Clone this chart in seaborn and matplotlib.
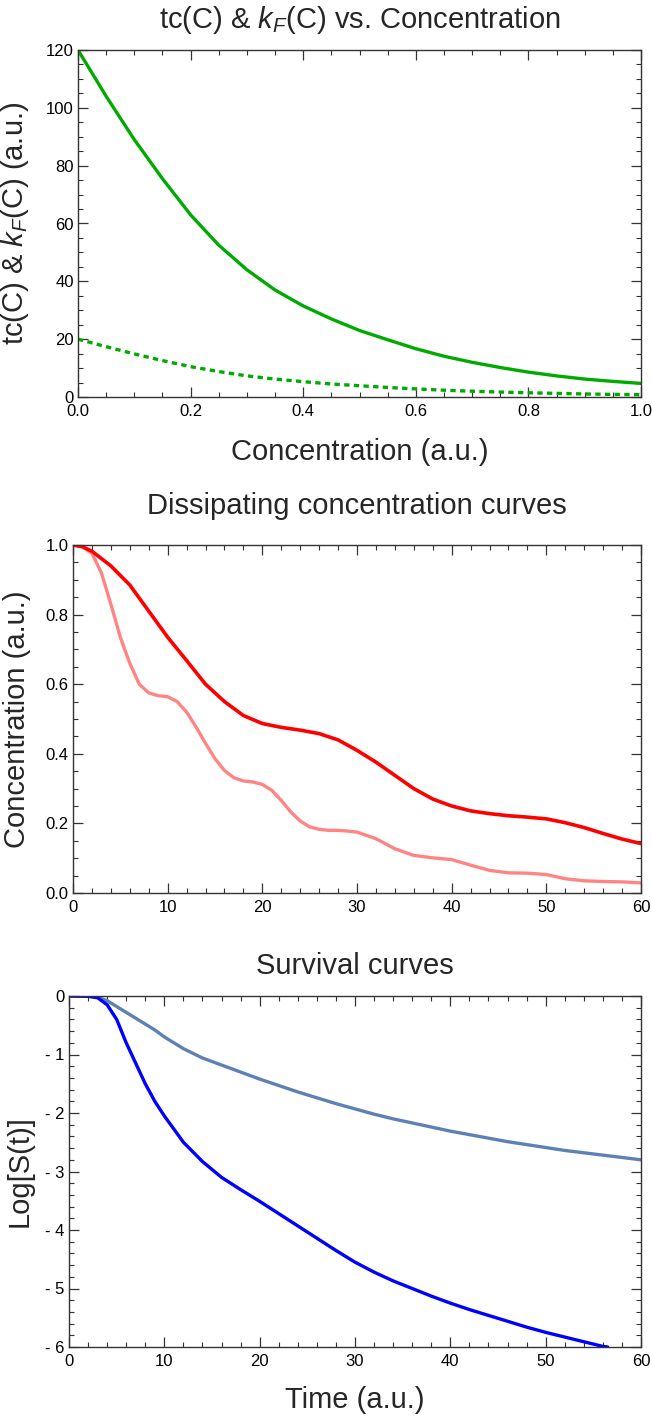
import numpy as np
import pandas as pd
import matplotlib
matplotlib.use("Agg")
import matplotlib.pyplot as plt
from matplotlib.ticker import MultipleLocator, FixedLocator, FixedFormatter
import seaborn as sns

# --- data ---
conc = [0.0, 0.05, 0.1, 0.15, 0.2, 0.25, 0.3, 0.35, 0.4, 0.45, 0.5,
        0.55, 0.6, 0.65, 0.7, 0.75, 0.8, 0.85, 0.9, 0.95, 1.0]
tc_vals = [120, 104, 89, 75.5, 63, 52.5, 44, 37, 31.5, 27, 23,
           19.8, 16.7, 14.1, 12, 10.2, 8.6, 7.3, 6.2, 5.4, 4.7]
kf_vals = [20, 17.4, 14.9, 12.6, 10.5, 8.8, 7.3, 6.2, 5.3, 4.5, 3.9,
           3.3, 2.8, 2.35, 2.0, 1.7, 1.45, 1.25, 1.05, 0.9, 0.8]

t_dark = [0, 1, 2, 4, 6, 8, 10, 12, 14, 16, 18, 20, 22, 24, 26, 28, 30,
          32, 34, 36, 38, 40, 42, 44, 46, 48, 50, 52, 54, 56, 58, 60]
c_dark = [1.0, 0.995, 0.982, 0.94, 0.885, 0.81, 0.735, 0.668, 0.60, 0.55, 0.51, 0.487,
          0.476, 0.468, 0.458, 0.44, 0.41, 0.376, 0.338, 0.30, 0.27, 0.25,
          0.236, 0.228, 0.222, 0.218, 0.213, 0.202, 0.188, 0.171, 0.155, 0.142]

t_light = [0, 1, 2, 3, 4, 5, 6, 7, 8, 9, 10, 11, 12, 13, 14, 15, 16, 17, 18, 19,
           20, 21, 22, 23, 24, 25, 26, 27, 28, 29, 30,
           32, 34, 36, 38, 40, 42, 44, 46, 48, 50, 52, 54, 56, 58, 60]
c_light = [1.0, 0.995, 0.976, 0.92, 0.83, 0.735, 0.66, 0.60, 0.575, 0.567, 0.564,
           0.55, 0.52, 0.477, 0.43, 0.386, 0.352, 0.331, 0.322, 0.319,
           0.312, 0.295, 0.266, 0.233, 0.207, 0.19, 0.183, 0.18, 0.18, 0.178, 0.175,
           0.156, 0.127, 0.108, 0.101, 0.096, 0.08, 0.065, 0.058, 0.057, 0.053,
           0.041, 0.035, 0.033, 0.032, 0.029]

t_surv = [0, 2, 3, 4, 5, 6, 7, 8, 9, 10, 12, 14, 16, 18, 20, 22, 24, 26, 28, 30,
          32, 34, 36, 38, 40, 42, 44, 46, 48, 50, 52, 54, 56, 58, 60]
s_light = [0, 0, -0.02, -0.08, -0.18, -0.28, -0.38, -0.48, -0.58, -0.7, -0.9, -1.06,
           -1.18, -1.3, -1.42, -1.53, -1.64, -1.74, -1.84, -1.93, -2.02, -2.1, -2.17,
           -2.24, -2.31, -2.37, -2.43, -2.49, -2.54, -2.59, -2.64, -2.68, -2.72, -2.76, -2.8]
t_surv_dark = [0, 2, 3, 4, 5, 6, 7, 8, 9, 10, 12, 14, 16, 18, 20, 22, 24, 26, 28, 30,
               32, 34, 36, 38, 40, 42, 44, 46, 48, 50, 52, 54, 56, 56.5]
s_dark = [0, -0.005, -0.03, -0.15, -0.4, -0.8, -1.15, -1.5, -1.8, -2.05, -2.5, -2.83,
          -3.1, -3.31, -3.51, -3.72, -3.93, -4.14, -4.35, -4.55, -4.72, -4.87, -5.0, -5.13,
          -5.25, -5.36, -5.46, -5.56, -5.66, -5.75, -5.83, -5.91, -5.99, -6.0]

sns.set_style("ticks")
plt.rcParams['font.family'] = ['Liberation Sans', 'DejaVu Sans']
plt.rcParams['mathtext.fontset'] = 'custom'
plt.rcParams['mathtext.rm'] = 'Liberation Sans'
plt.rcParams['mathtext.it'] = 'Liberation Sans:italic'

W, H = 652, 1417
fig = plt.figure(figsize=(W / 100, H / 100), dpi=100)


def rect(l, r, t, b):
    return [l / W, 1 - b / H, (r - l) / W, (b - t) / H]


def frame(ax):
    for s in ax.spines.values():
        s.set_color('#333333')
        s.set_linewidth(1.0)
    ax.tick_params(which='both', direction='in', top=True, right=True,
                   colors='#333333', labelcolor='black', labelsize=12)
    ax.tick_params(which='major', length=7, width=0.9)
    ax.tick_params(which='minor', length=3.5, width=0.8)
    ax.tick_params(axis='x', pad=5)
    ax.tick_params(axis='y', pad=3)


green = '#00AA00'

# top panel
ax1 = fig.add_axes(rect(78, 641, 50, 397))
df1 = pd.DataFrame({'C': conc, 'tc': tc_vals, 'kf': kf_vals})
sns.lineplot(data=df1, x='C', y='tc', ax=ax1, color=green, lw=2.4)
sns.lineplot(data=df1, x='C', y='kf', ax=ax1, color=green, lw=2.4, linestyle=(0, (1.6, 1.3)))
ax1.set_xlim(0, 1)
ax1.set_ylim(0, 120)
ax1.xaxis.set_major_locator(MultipleLocator(0.2))
ax1.xaxis.set_minor_locator(MultipleLocator(0.05))
ax1.yaxis.set_major_locator(MultipleLocator(20))
ax1.yaxis.set_minor_locator(MultipleLocator(5))
ax1.xaxis.set_major_formatter(plt.FormatStrFormatter('%.1f'))
frame(ax1)
ax1.set_title(r'tc(C) & $\mathit{k}_{\mathit{F}}$(C) vs. Concentration', fontsize=21, pad=16)
ax1.set_xlabel('Concentration (a.u.)', fontsize=21, labelpad=14)
ax1.set_ylabel(r'tc(C) & $\mathit{k}_{\mathit{F}}$(C) (a.u.)', fontsize=21)
ax1.yaxis.set_label_coords(-0.083, 0.5)

# middle panel
ax2 = fig.add_axes(rect(73, 641, 545, 893))
df2a = pd.DataFrame({'t': t_dark, 'c': c_dark})
df2b = pd.DataFrame({'t': t_light, 'c': c_light})
sns.lineplot(data=df2b, x='t', y='c', ax=ax2, color='#FF8585', lw=2.4)
sns.lineplot(data=df2a, x='t', y='c', ax=ax2, color='#FF0000', lw=2.6)
ax2.set_xlim(0, 60)
ax2.set_ylim(0, 1)
ax2.xaxis.set_major_locator(MultipleLocator(10))
ax2.xaxis.set_minor_locator(MultipleLocator(2))
ax2.yaxis.set_major_locator(MultipleLocator(0.2))
ax2.yaxis.set_minor_locator(MultipleLocator(0.05))
ax2.yaxis.set_major_formatter(plt.FormatStrFormatter('%.1f'))
frame(ax2)
ax2.set_title('Dissipating concentration curves', fontsize=21, pad=22)
ax2.set_xlabel('')
ax2.set_ylabel('Concentration (a.u.)', fontsize=21)
ax2.yaxis.set_label_coords(-0.074, 0.5)

# bottom panel
ax3 = fig.add_axes(rect(69, 641, 996, 1347))
df3a = pd.DataFrame({'t': t_surv, 's': s_light})
df3b = pd.DataFrame({'t': t_surv_dark, 's': s_dark})
sns.lineplot(data=df3a, x='t', y='s', ax=ax3, color='#5E81B5', lw=2.4)
sns.lineplot(data=df3b, x='t', y='s', ax=ax3, color='#0000FF', lw=2.4)
ax3.set_xlim(0, 60)
ax3.set_ylim(-6, 0)
ax3.xaxis.set_major_locator(MultipleLocator(10))
ax3.xaxis.set_minor_locator(MultipleLocator(2))
ax3.yaxis.set_major_locator(FixedLocator([0, -1, -2, -3, -4, -5, -6]))
ax3.yaxis.set_major_formatter(FixedFormatter(['0', '- 1', '- 2', '- 3', '- 4', '- 5', '- 6']))
ax3.yaxis.set_minor_locator(MultipleLocator(0.2))
frame(ax3)
ax3.set_title('Survival curves', fontsize=21, pad=16)
ax3.set_xlabel('Time (a.u.)', fontsize=21, labelpad=12)
ax3.set_ylabel('Log[S(t)]', fontsize=21)
ax3.yaxis.set_label_coords(-0.062, 0.5)

fig.savefig('out.png', dpi=100)
